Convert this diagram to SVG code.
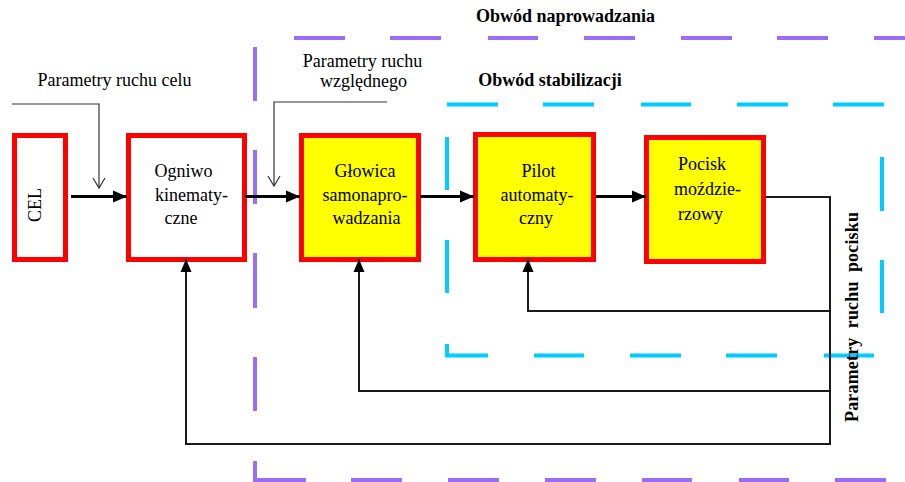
<svg xmlns="http://www.w3.org/2000/svg" width="905" height="482" viewBox="0 0 905 482">
  <style>
    text { font-family: "Liberation Serif", "Times New Roman", serif; font-size: 18px; fill: #000; }
    .bold { font-weight: bold; }
    .box { stroke: #ff0000; stroke-width: 5; }
    .white { fill: #ffffff; }
    .yellow { fill: #ffff00; }
    .guide { fill: none; stroke: #9b6cf6; stroke-width: 4; }
    .stab { fill: none; stroke: #00ccff; stroke-width: 4; }
    .flow { fill: none; stroke: #000; stroke-width: 3; }
    .fb { fill: none; stroke: #1a1a1a; stroke-width: 2; }
    .input { fill: none; stroke: #333; stroke-width: 1.2; }
  </style>
  <defs>
    <marker id="arrowBig" markerUnits="userSpaceOnUse" markerWidth="16" markerHeight="14" refX="14" refY="6" orient="auto" overflow="visible">
      <path d="M0,0 L14,6 L0,12 z" fill="#000"/>
    </marker>
    <marker id="arrowFb" markerUnits="userSpaceOnUse" markerWidth="14" markerHeight="12" refX="13" refY="5.5" orient="auto" overflow="visible">
      <path d="M0,0 L13,5.5 L0,11 z" fill="#000"/>
    </marker>
    <marker id="arrowOpen" markerUnits="userSpaceOnUse" markerWidth="12" markerHeight="14" refX="10" refY="6" orient="auto" overflow="visible">
      <path d="M0,0 L10,6 L0,12" fill="none" stroke="#333" stroke-width="1.2"/>
    </marker>
  </defs>

  <!-- guidance loop boundary (dashed) -->
  <g id="guidance-loop">
    <path class="guide" d="M294,38 H345 M390,38 H441 M488,38 H538 M584,38 H635 M681,38 H732 M777,38 H828 M874,38 H905
                            M255,47 V101 M255,150 V204 M255,253 V308 M255,357 V411
                            M255,461 V480 H306 M351,480 H402 M448,480 H499 M545,480 H596 M642,480 H692 M739,480 H789 M835,480 H886"/>
    <text class="bold" x="565.5" y="22" text-anchor="middle">Obwód naprowadzania</text>
  </g>

  <!-- stabilisation loop boundary (dashed) -->
  <g id="stabilisation-loop">
    <path class="stab" d="M447,104.5 H498 M543,104.5 H594 M641,104.5 H691 M737,104.5 H788 M833,104.5 H884
                           M447,137 V190 M447,240 V293
                           M447,344 V355.5 H488 M534,355.5 H584 M630,355.5 H681 M726,355.5 H777 M824,355.5 H874
                           M882,157 V211 M882,260 V313"/>
    <text class="bold" x="550" y="86" text-anchor="middle">Obwód stabilizacji</text>
  </g>

  <!-- blocks -->
  <g id="cel">
    <rect class="box white" x="14.5" y="135.5" width="51" height="124"/>
    <text transform="translate(41,205) rotate(-90)" text-anchor="middle">CEL</text>
  </g>
  <g id="ogniwo">
    <rect class="box white" x="128.5" y="135.5" width="116" height="124"/>
    <text x="183.5" y="177" text-anchor="middle">Ogniwo</text>
    <text x="191.5" y="201" text-anchor="middle">kinematy-</text>
    <text x="181" y="224" text-anchor="middle">czne</text>
  </g>
  <g id="glowica">
    <rect class="box yellow" x="301.5" y="135.5" width="117" height="124"/>
    <text x="365" y="177" text-anchor="middle">Głowica</text>
    <text x="365" y="201" text-anchor="middle">samonapro-</text>
    <text x="366.5" y="224" text-anchor="middle">wadzania</text>
  </g>
  <g id="pilot">
    <rect class="box yellow" x="475.5" y="134.5" width="118" height="125"/>
    <text x="538.5" y="177" text-anchor="middle">Pilot</text>
    <text x="537" y="201" text-anchor="middle">automaty-</text>
    <text x="536" y="224" text-anchor="middle">czny</text>
  </g>
  <g id="pocisk">
    <rect class="box yellow" x="646.5" y="137.5" width="117" height="124"/>
    <text x="702" y="170" text-anchor="middle">Pocisk</text>
    <text x="707.5" y="195" text-anchor="middle">moździe-</text>
    <text x="700.5" y="220" text-anchor="middle">rzowy</text>
  </g>

  <!-- connectors -->
  <g id="connectors">
    <!-- forward path -->
    <line class="flow" x1="71" y1="196.5" x2="127" y2="196.5" marker-end="url(#arrowBig)"/>
    <line class="flow" x1="245" y1="196.5" x2="300" y2="196.5" marker-end="url(#arrowBig)"/>
    <line class="flow" x1="420" y1="196.5" x2="474" y2="196.5" marker-end="url(#arrowBig)"/>
    <line class="flow" x1="596" y1="196.5" x2="646" y2="196.5" marker-end="url(#arrowBig)"/>
    <!-- feedback paths -->
    <path class="fb" d="M766,197 H830 V444 H186 V259" marker-end="url(#arrowFb)"/>
    <path class="fb" d="M830,391 H359 V259" marker-end="url(#arrowFb)"/>
    <path class="fb" d="M830,311 H528 V259" marker-end="url(#arrowFb)"/>
    <!-- external inputs -->
    <path class="input" d="M12,104 H99 V188" marker-end="url(#arrowOpen)"/>
    <path class="input" d="M387,102 H274 V186" marker-end="url(#arrowOpen)"/>
  </g>

  <!-- signal labels -->
  <g id="labels">
    <text x="114.5" y="86" text-anchor="middle">Parametry ruchu celu</text>
    <text x="362.5" y="67" text-anchor="middle">Parametry ruchu</text>
    <text x="363.5" y="87" text-anchor="middle">względnego</text>
    <text class="bold" transform="translate(858,317) rotate(-90)" text-anchor="middle" textLength="210" lengthAdjust="spacing" xml:space="preserve">Parametry  ruchu  pocisku</text>
  </g>
</svg>
